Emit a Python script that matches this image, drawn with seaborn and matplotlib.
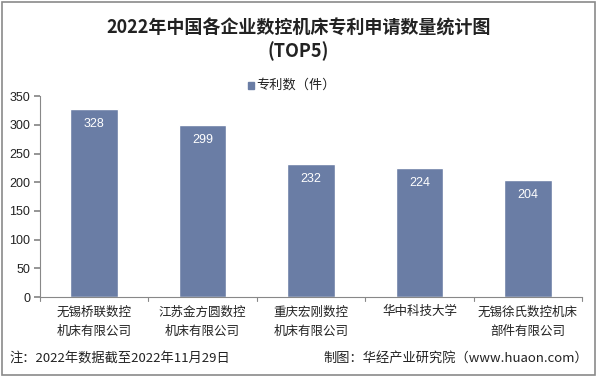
import matplotlib
matplotlib.use("Agg")
import matplotlib.pyplot as plt
import seaborn as sns
import pandas as pd
import numpy as np

categories = ["无锡桥联数控\n机床有限公司", "江苏金方圆数控\n机床有限公司", "重庆宏刚数控\n机床有限公司", "华中科技大学", "无锡徐氏数控机床\n部件有限公司"]
values = [328, 299, 232, 224, 204]
yticks = [0, 50, 100, 150, 200, 250, 300, 350]
series_name = "专利数（件）"

sns.set_theme(style="white")
plt.rcParams['font.family'] = ['Noto Sans CJK SC', 'DejaVu Sans']

fig = plt.figure(figsize=(5.97, 3.77), dpi=100)
ax = fig.add_axes([0.067, 0.212, 0.908, 0.533])

df = pd.DataFrame({"cat": categories, "val": values, "s": series_name})
color = "#6a7da5"
sns.barplot(data=df, x="cat", y="val", hue="s", palette=[color], width=0.44, ax=ax, saturation=1, legend=False)

ax.set_ylim(0, 350)
ax.set_xlim(-0.5, len(categories) - 0.5)
ax.set_yticks(yticks)
ax.set_yticklabels([str(t) for t in yticks], fontsize=9, color="#222222", family=['Liberation Sans', 'DejaVu Sans'])
ax.set_xticks(np.arange(len(categories)))
ax.set_xticklabels(categories, fontsize=9, color="#222222", linespacing=1.6)
ax.tick_params(axis='x', length=0, pad=6)
ax.tick_params(axis='y', length=4, direction='out', color="#888888", left=True, pad=3)
ax.set_xlabel("")
ax.set_ylabel("")
for sp in ["top", "right"]:
    ax.spines[sp].set_visible(False)
for sp in ["left", "bottom"]:
    ax.spines[sp].set_color("#888888")
    ax.spines[sp].set_linewidth(0.8)

# category boundary ticks
for b in np.arange(-0.5, len(categories) + 0.5, 1):
    ax.plot([b, b], [0, -0.02], transform=ax.get_xaxis_transform(), color="#888888", lw=0.8, clip_on=False)

for c in ax.containers:
    ax.bar_label(c, labels=[str(v) for v in values], label_type='edge', padding=-15, color="white", fontsize=9, family=['Liberation Sans', 'DejaVu Sans'])

# legend
fig.patches.append(plt.Rectangle((0.415, 0.765), 0.011, 0.018, transform=fig.transFigure, color=color))
fig.text(0.43, 0.773, series_name, fontsize=9.5, va='center', ha='left', color="#222222")

fig.text(0.5, 0.925, "2022年中国各企业数控机床专利申请数量统计图", ha='center', va='center', fontsize=13, fontweight='bold', color="#222222")
fig.text(0.5, 0.865, "(TOP5)", ha='center', va='center', fontsize=13, fontweight='bold', color="#222222")

fig.text(0.015, 0.05, "注：2022年数据截至2022年11月29日", ha='left', va='center', fontsize=9.5, color="#222222")
fig.text(0.985, 0.05, "制图：华经产业研究院（www.huaon.com）", ha='right', va='center', fontsize=9.5, color="#222222")

fig.patches.append(plt.Rectangle((0.003, 0.005), 0.994, 0.99, transform=fig.transFigure, fill=False, edgecolor="#8a8a8a", lw=1.2))

fig.savefig("out.png", dpi=100)
